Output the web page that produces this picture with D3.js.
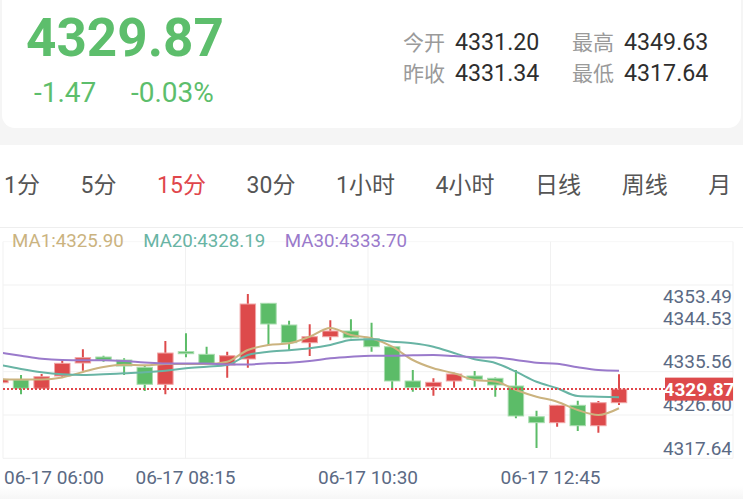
<!DOCTYPE html>
<html><head><meta charset="utf-8">
<script src="https://cdn.jsdelivr.net/npm/d3@7"></script>
<style>
html,body{margin:0;padding:0;background:#fff;overflow:hidden;}
svg{display:block;font-family:Roboto,"Noto Sans CJK SC",sans-serif;}
</style></head><body>
<svg id="c" width="743" height="499"></svg>
<script>
// ---------- data ----------
const lastPrice = "4329.87";
const changeAbs = "-1.47";
const changePct = "-0.03%";
const infoLabels = ["今开", "最高", "昨收", "最低"];
const infoValues = ["4331.20", "4349.63", "4331.34", "4317.64"];
const tabs = ["1分", "5分", "15分", "30分", "1小时", "4小时", "日线", "周线", "月"];
const activeTab = "15分";

const opens  = [4331.20,4331.77,4330.04,4332.60,4335.30,4336.54,4335.92,4334.40,4330.87,4337.64,4337.10,4334.88,4336.13,4347.70,4343.19,4339.51,4340.76,4341.94,4340.34,4338.68,4331.56,4330.37,4331.56,4332.60,4332.12,4330.52,4324.14,4322.90,4326.51,4322.27,4327.05];
const closes = [4331.91,4330.04,4332.45,4335.23,4336.40,4335.92,4334.67,4330.87,4337.37,4337.23,4335.15,4336.81,4347.55,4343.40,4339.51,4340.76,4341.94,4340.55,4338.68,4331.56,4330.17,4331.29,4333.01,4331.91,4330.73,4324.29,4322.90,4326.51,4322.27,4327.05,4329.87];
const highs  = [4332.08,4332.80,4333.01,4335.71,4338.14,4336.81,4336.27,4334.88,4339.87,4341.47,4338.68,4337.64,4349.63,4347.75,4344.08,4343.34,4344.17,4344.37,4343.67,4338.70,4333.84,4332.12,4333.28,4333.64,4332.30,4333.84,4325.39,4326.55,4327.47,4327.40,4332.95];
const lows   = [4330.93,4328.80,4329.95,4332.24,4333.70,4335.57,4332.80,4329.48,4328.80,4336.48,4334.88,4332.24,4334.32,4339.04,4338.00,4336.75,4340.01,4340.43,4337.64,4329.69,4329.34,4328.50,4330.17,4330.37,4328.30,4323.81,4317.64,4322.06,4321.17,4320.82,4326.57];

const ma1  = [4331.91,4331.87,4331.87,4332.29,4333.43,4334.47,4334.94,4334.82,4335.09,4335.09,4335.09,4335.57,4338.00,4339.04,4339.39,4340.76,4342.57,4341.11,4340.43,4338.68,4335.92,4334.20,4333.16,4331.77,4331.45,4329.69,4328.30,4327.26,4325.53,4324.50,4325.90];
const ma20 = [4334.88,4334.05,4333.37,4332.95,4332.80,4332.95,4333.16,4333.37,4333.70,4334.20,4334.53,4334.88,4336.96,4337.64,4337.94,4338.35,4339.04,4340.07,4340.22,4339.72,4339.39,4338.68,4337.37,4336.07,4335.30,4333.49,4331.41,4330.04,4328.44,4328.30,4328.19];
const ma30 = [4337.44,4336.81,4336.19,4335.92,4335.86,4335.86,4335.71,4335.40,4335.19,4335.19,4335.19,4334.99,4334.99,4335.23,4335.36,4335.71,4336.27,4336.61,4336.81,4336.81,4336.90,4336.96,4336.75,4336.48,4336.44,4335.92,4335.36,4335.15,4334.40,4333.84,4333.70];
const maNames = ["MA1", "MA20", "MA30"];
const maLast  = ["4325.90", "4328.19", "4333.70"];

const yTickValues = [4353.49, 4344.53, 4335.56, 4326.60, 4317.64];
const timeLabels = ["06-17 06:00", "06-17 08:15", "06-17 10:30", "06-17 12:45"];

// ---------- styles ----------
const UP = "#dd4a4b", DOWN = "#5cbc68", UP_EDGE = "#f0a5a6", DOWN_EDGE = "#a8dcae";
const MA_COLORS = ["#cbb37f", "#68b4a4", "#9a7acb"];
const AXIS_COLOR = "#5b6a84";
const GRID = "#f1f1f1";

const svg = d3.select("#c");
const defs = svg.append("defs");
const grad = defs.append("linearGradient").attr("id", "bottomFade").attr("x1", 0).attr("x2", 0).attr("y1", 0).attr("y2", 1);
grad.append("stop").attr("offset", "0%").attr("stop-color", "#ffffff");
grad.append("stop").attr("offset", "100%").attr("stop-color", "#f6f6f6");

// ---------- header ----------
svg.append("rect").attr("x",0).attr("y",0).attr("width",743).attr("height",146).attr("fill","#f5f5f5");
svg.append("rect").attr("x",2).attr("y",-20).attr("width",739).attr("height",148).attr("rx",13).attr("fill","#fff");
svg.append("rect").attr("x",0).attr("y",145).attr("width",743).attr("height",354).attr("fill","#fff");
svg.append("rect").attr("x",0).attr("y",486).attr("width",743).attr("height",13).attr("fill","url(#bottomFade)");

svg.append("text").attr("x",26).attr("y",56).attr("font-size",53).attr("font-weight","bold")
  .attr("fill","#5dbe6c").text(lastPrice);
svg.append("text").attr("x",34).attr("y",102).attr("font-size",28).attr("fill","#5dbe6c").text(changeAbs);
svg.append("text").attr("x",131).attr("y",102).attr("font-size",28).attr("fill","#5dbe6c").text(changePct);

const infoG = svg.append("g");
infoLabels.forEach((lab, i) => {
  const col = i % 2, row = Math.floor(i / 2);
  const lx = col === 0 ? 403 : 572, by = row === 0 ? 50 : 81;
  infoG.append("text").attr("x", lx).attr("y", by).attr("font-size", 21).attr("fill", "#9a9a9a").text(lab);
  infoG.append("text").attr("x", lx + 52).attr("y", by).attr("font-size", 23.2).attr("fill", "#2e2e2e").text(infoValues[i]);
});

// ---------- tabs ----------
let tx = 4;
tabs.forEach(t => {
  const el = svg.append("text").attr("x", tx).attr("y", 193).attr("font-size", 23)
    .attr("fill", t === activeTab ? "#e0464b" : "#555").text(t);
  tx += el.node().getComputedTextLength() + 40.6;
});
svg.append("line").attr("x1",0).attr("x2",743).attr("y1",227.5).attr("y2",227.5).attr("stroke","#eeeeee");

// ---------- plot ----------
const plot = {left: 3, right: 733, top: 241.7, bottom: 458.3};
const n = closes.length;
const x = d3.scaleLinear().domain([0, n - 1]).range([0.4, 619]);
const step = x(1) - x(0);
const bodyW = step * 0.75;
const y = d3.scaleLinear().domain([4317.64, 4349.63]).range([448, 294]);

// grid
const rows = d3.range(6).map(k => plot.top + k * (plot.bottom - plot.top) / 5);
const colScale = d3.scaleLinear().domain([0, 4]).range([plot.left, plot.right]);
const gridG = svg.append("g");
rows.forEach((r, k) => gridG.append("line").attr("x1", plot.left).attr("x2", plot.right)
  .attr("y1", r).attr("y2", r).attr("stroke", k === 0 ? "#f7f7f7" : GRID));
d3.range(5).forEach(k => gridG.append("line").attr("x1", colScale(k)).attr("x2", colScale(k))
  .attr("y1", plot.top).attr("y2", plot.bottom).attr("stroke", GRID));

defs.append("clipPath").attr("id", "pc").append("rect")
  .attr("x", plot.left).attr("y", plot.top).attr("width", plot.right - plot.left).attr("height", plot.bottom - plot.top);

const cg = svg.append("g").attr("clip-path", "url(#pc)");
const candles = d3.range(n).map(i => ({i, o: opens[i], c: closes[i], h: highs[i], l: lows[i]}));
cg.selectAll(".wick").data(candles).join("line")
  .attr("x1", d => x(d.i)).attr("x2", d => x(d.i))
  .attr("y1", d => y(d.h)).attr("y2", d => y(d.l))
  .attr("stroke", d => d.c >= d.o ? UP : DOWN).attr("stroke-width", 2);
cg.selectAll(".body").data(candles).join("rect")
  .attr("x", d => x(d.i) - bodyW / 2).attr("width", bodyW)
  .attr("y", d => y(Math.max(d.o, d.c)))
  .attr("height", d => Math.max(1.5, Math.abs(y(d.o) - y(d.c))))
  .attr("fill", d => d.c >= d.o ? UP : DOWN)
  .attr("stroke", d => d.c >= d.o ? UP_EDGE : DOWN_EDGE).attr("stroke-width", 1);

// MA lines
const line = d3.line().x((d, i) => x(i)).y(d => y(d)).curve(d3.curveMonotoneX);
[ma1, ma20, ma30].forEach((s, k) => {
  cg.append("path").attr("d", line(s)).attr("fill", "none")
    .attr("stroke", MA_COLORS[k]).attr("stroke-width", 2);
});

// current price line
const py = y(+lastPrice);
svg.append("line").attr("x1", plot.left).attr("x2", 665).attr("y1", py).attr("y2", py)
  .attr("stroke", "#e0464b").attr("stroke-width", 2).attr("stroke-dasharray", "2,2");

// y labels
const yl = svg.append("g").attr("font-size", 19).attr("fill", AXIS_COLOR).attr("text-anchor", "end");
yTickValues.forEach(v => {
  yl.append("text").attr("x", 732).attr("y", Math.max(y(v), rows[1] + 11))
    .attr("dominant-baseline", "central").text(v.toFixed(2));
});

// price tag
const tagG = svg.append("g");
tagG.append("rect").attr("x", 665).attr("y", py - 11.5).attr("width", 68).attr("height", 23).attr("fill", "#dd4a4b");
tagG.append("text").attr("x", 699).attr("y", py).attr("dominant-baseline", "central").attr("text-anchor", "middle")
  .attr("font-size", 19).attr("font-weight", "bold").attr("fill", "#fff").text(lastPrice);

// legend
let lx = 12;
maNames.forEach((nm, k) => {
  const el = svg.append("text").attr("x", lx).attr("y", 247).attr("font-size", 18.7)
    .attr("fill", MA_COLORS[k]).text(nm + ":" + maLast[k]);
  lx += el.node().getComputedTextLength() + 19.5;
});

// time labels
timeLabels.forEach((t, k) => {
  svg.append("text").attr("x", k === 0 ? plot.left + 1 : colScale(k)).attr("y", 484)
    .attr("font-size", 19).attr("fill", AXIS_COLOR).attr("text-anchor", k === 0 ? "start" : "middle").text(t);
});
</script>
</body></html>
